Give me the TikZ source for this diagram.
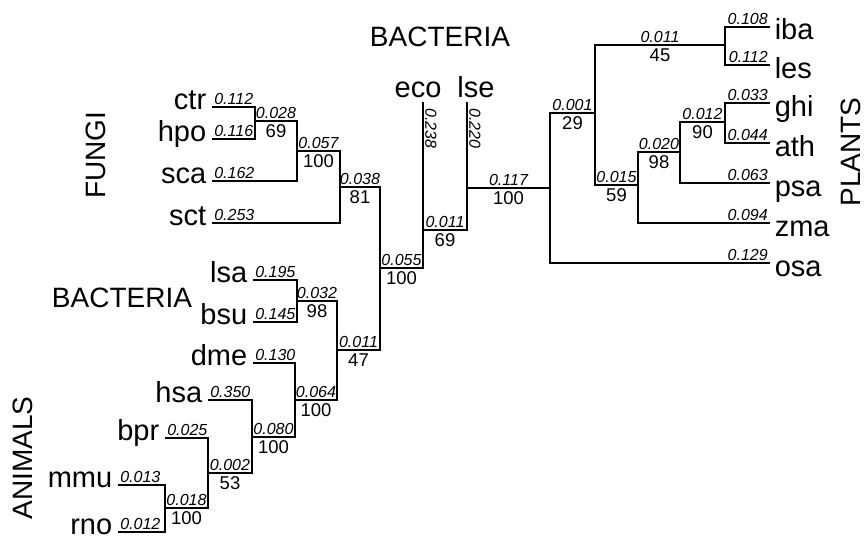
\documentclass[tikz,border=0pt]{standalone}
\usepackage{fontspec}
\setmainfont{Liberation Sans}
\begin{document}
\begin{tikzpicture}[x=1pt,y=-1pt, line width=1.6pt,
  br/.style={font=\fontsize{16}{16}\selectfont\itshape, inner sep=1.5pt},
  bs/.style={font=\fontsize{18.5}{18.5}\selectfont, inner sep=3pt},
  leaf/.style={font=\fontsize{29}{29}\selectfont, inner sep=0pt},
  cat/.style={font=\fontsize{28}{28}\selectfont, inner sep=0pt}]
\useasboundingbox (0,0) rectangle (867,543);
% leaf tips
\coordinate (tctr) at (212,107);
\coordinate (thpo) at (212,139);
\coordinate (tsca) at (212,181);
\coordinate (tsct) at (212,223);
\coordinate (tlsa) at (253,280);
\coordinate (tbsu) at (253,322);
\coordinate (tdme) at (253,363);
\coordinate (thsa) at (208,400);
\coordinate (tbpr) at (165,438);
\coordinate (tmmu) at (118,485);
\coordinate (trno) at (118,532);
\coordinate (teco) at (423,102);
\coordinate (tlse) at (467,102);
\coordinate (tiba) at (770,27);
\coordinate (tles) at (770,65);
\coordinate (tghi) at (770,103);
\coordinate (tath) at (770,143);
\coordinate (tpsa) at (770,183);
\coordinate (tzma) at (770,223);
\coordinate (tosa) at (770,263);
% internal nodes
\coordinate (N1) at (255,121);
\coordinate (N2) at (297,151);
\coordinate (N3) at (340,187);
\coordinate (N4) at (297,301);
\coordinate (A1) at (165,508);
\coordinate (A2) at (208,473);
\coordinate (A3) at (252,437);
\coordinate (A4) at (295,400);
\coordinate (N5) at (337,350);
\coordinate (N6) at (380,268);
\coordinate (N7) at (423,230);
\coordinate (N8) at (467,188);
\coordinate (R) at (550,188);
\coordinate (P1) at (595,113);
\coordinate (P2) at (725,45);
\coordinate (P3) at (638,185);
\coordinate (P4) at (680,152);
\coordinate (P5) at (725,122);
% left leaf edges
\draw (tctr) -| (N1) node[br,pos=0,anchor=south west] (l1) {0.112};
\draw (thpo) -| (N1) node[br,pos=0,anchor=south west] (l2) {0.116};
\draw (tsca) -| (N2) node[br,pos=0,anchor=south west] (l3) {0.162};
\draw (tsct) -| (N3) node[br,pos=0,anchor=south west] (l4) {0.253};
\draw (tlsa) -| (N4) node[br,pos=0,anchor=south west] (l5) {0.195};
\draw (tbsu) -| (N4) node[br,pos=0,anchor=south west] (l6) {0.145};
\draw (tdme) -| (A4) node[br,pos=0,anchor=south west] (l7) {0.130};
\draw (thsa) -| (A3) node[br,pos=0,anchor=south west] (l8) {0.350};
\draw (tbpr) -| (A2) node[br,pos=0,anchor=south west] (l9) {0.025};
\draw (tmmu) -| (A1) node[br,pos=0,anchor=south west] (l10) {0.013};
\draw (trno) -| (A1) node[br,pos=0,anchor=south west] (l11) {0.012};
% internal edges
\draw (N1) -| (N2) node[br,pos=.25,above] (e1) {0.028} node[bs,pos=.25,below] (s1) {69};
\draw (N2) -| (N3) node[br,pos=.25,above] (e2) {0.057} node[bs,pos=.25,below] (s2) {100};
\draw (N3) -| (N6) node[br,pos=.25,above] (e3) {0.038} node[bs,pos=.25,below] (s3) {81};
\draw (N4) -| (N5) node[br,pos=.25,above] (e4) {0.032} node[bs,pos=.25,below] (s4) {98};
\draw (A1) -| (A2) node[br,pos=.25,above] (e5) {0.018} node[bs,pos=.25,below] (s5) {100};
\draw (A2) -| (A3) node[br,pos=.25,above] (e6) {0.002} node[bs,pos=.25,below] (s6) {53};
\draw (A3) -| (A4) node[br,pos=.25,above] (e7) {0.080} node[bs,pos=.25,below] (s7) {100};
\draw (A4) -| (N5) node[br,pos=.25,above] (e8) {0.064} node[bs,pos=.25,below] (s8) {100};
\draw (N5) -| (N6) node[br,pos=.25,above] (e9) {0.011} node[bs,pos=.25,below] (s9) {47};
\draw (N6) -| (N7) node[br,pos=.25,above] (e10) {0.055} node[bs,pos=.25,below] (s10) {100};
\draw (N7) -| (N8) node[br,pos=.25,above] (e11) {0.011} node[bs,pos=.25,below] (s11) {69};
\draw (N8) -- (R) node[br,midway,above] (e12) {0.117} node[bs,midway,below] (s12) {100};
\draw (P1) -| (R) node[br,pos=.25,above] (e13) {0.001} node[bs,pos=.25,below] (s13) {29};
\draw (P2) -| (P1) node[br,pos=.25,above] (e14) {0.011} node[bs,pos=.25,below] (s14) {45};
\draw (P3) -| (P1) node[br,pos=.25,above] (e15) {0.015} node[bs,pos=.25,below] (s15) {59};
\draw (P4) -| (P3) node[br,pos=.25,above] (e16) {0.020} node[bs,pos=.25,below] (s16) {98};
\draw (P5) -| (P4) node[br,pos=.25,above] (e17) {0.012} node[bs,pos=.25,below] (s17) {90};
% bacteria vertical edges
\draw (teco) -- (N7);
\draw (tlse) -- (N8);
\node[br,rotate=-90,anchor=south west] (l12) at ([yshift=-4pt]teco) {0.238};
\node[br,rotate=-90,anchor=south west] (l13) at ([yshift=-4pt]tlse) {0.220};
% right leaf edges
\draw (tiba) -| (P2) node[br,pos=0,anchor=south east] (r1) {0.108};
\draw (tles) -| (P2) node[br,pos=0,anchor=south east] (r2) {0.112};
\draw (tghi) -| (P5) node[br,pos=0,anchor=south east] (r3) {0.033};
\draw (tath) -| (P5) node[br,pos=0,anchor=south east] (r4) {0.044};
\draw (tpsa) -| (P4) node[br,pos=0,anchor=south east] (r5) {0.063};
\draw (tzma) -| (P3) node[br,pos=0,anchor=south east] (r6) {0.094};
\draw (tosa) -| (R) node[br,pos=0,anchor=south east] (r7) {0.129};
% leaf names
\node[leaf,anchor=base east] (ctr) at ([xshift=-5pt,yshift=-2pt]tctr) {ctr};
\node[leaf,anchor=base east] (hpo) at ([xshift=-5pt,yshift=-2pt]thpo) {hpo};
\node[leaf,anchor=base east] (sca) at ([xshift=-5pt,yshift=-2pt]tsca) {sca};
\node[leaf,anchor=base east] (sct) at ([xshift=-5pt,yshift=-2pt]tsct) {sct};
\node[leaf,anchor=base east] (lsa) at ([xshift=-5pt,yshift=-2pt]tlsa) {lsa};
\node[leaf,anchor=base east] (bsu) at ([xshift=-5pt,yshift=-2pt]tbsu) {bsu};
\node[leaf,anchor=base east] (dme) at ([xshift=-5pt,yshift=-2pt]tdme) {dme};
\node[leaf,anchor=base east] (hsa) at ([xshift=-5pt,yshift=-2pt]thsa) {hsa};
\node[leaf,anchor=base east] (bpr) at ([xshift=-5pt,yshift=-2pt]tbpr) {bpr};
\node[leaf,anchor=base east] (mmu) at ([xshift=-5pt,yshift=-2pt]tmmu) {mmu};
\node[leaf,anchor=base east] (rno) at ([xshift=-5pt,yshift=-2pt]trno) {rno};
\node[leaf,anchor=base] (eco) at (418,97) {eco};
\node[leaf,anchor=base] (lse) at (476,97) {lse};
\node[leaf,anchor=base west] (iba) at ([xshift=4pt,yshift=-13pt]tiba) {iba};
\node[leaf,anchor=base west] (les) at ([xshift=4pt,yshift=-13pt]tles) {les};
\node[leaf,anchor=base west] (ghi) at ([xshift=4pt,yshift=-13pt]tghi) {ghi};
\node[leaf,anchor=base west] (ath) at ([xshift=4pt,yshift=-13pt]tath) {ath};
\node[leaf,anchor=base west] (psa) at ([xshift=4pt,yshift=-13pt]tpsa) {psa};
\node[leaf,anchor=base west] (zma) at ([xshift=4pt,yshift=-13pt]tzma) {zma};
\node[leaf,anchor=base west] (osa) at ([xshift=4pt,yshift=-13pt]tosa) {osa};
% group labels
\node[cat,rotate=90] (fungi) at (96,155) {FUNGI};
\node[cat,rotate=90] (animals) at (23,458) {ANIMALS};
\node[cat,rotate=90] (plants) at (851,152) {PLANTS};
\node[cat] (bact1) at (440,37) {BACTERIA};
\node[cat] (bact2) at (122,298) {BACTERIA};
\end{tikzpicture}
\end{document}
